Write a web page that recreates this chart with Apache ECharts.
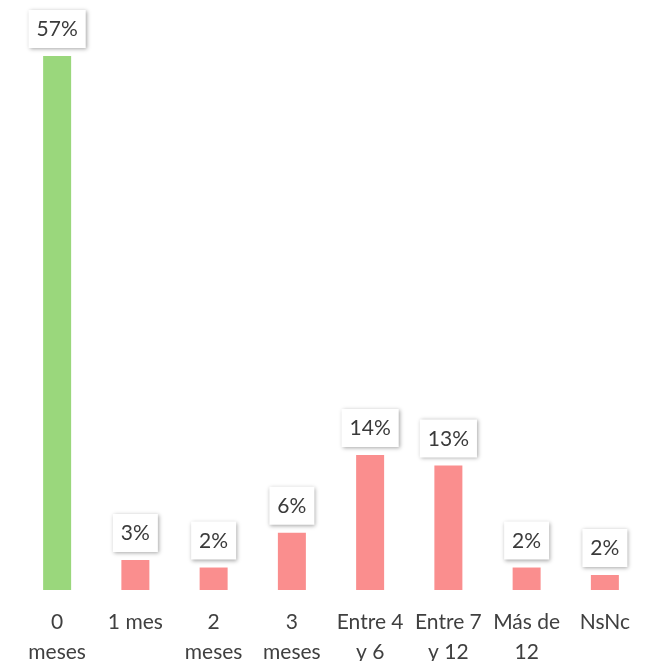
<!DOCTYPE html>
<html><head><meta charset="utf-8">
<script src="https://cdn.jsdelivr.net/npm/echarts@6/dist/echarts.min.js"></script>
<style>html,body{margin:0;padding:0;background:#fff}#c{width:648px;height:661px}</style>
</head><body><div id="c"></div>
<script>
const categories = ["0\nmeses","1 mes","2\nmeses","3\nmeses","Entre 4\ny 6","Entre 7\ny 12","Más de\n12","NsNc"];
const values = [57.0, 3.2, 2.4, 6.1, 14.4, 13.3, 2.4, 1.6];
const colors = ["#9ad77c","#fa8e8e","#fa8e8e","#fa8e8e","#fa8e8e","#fa8e8e","#fa8e8e","#fa8e8e"];
const FONT = "Lato, 'Open Sans', sans-serif";
const chart = echarts.init(document.getElementById('c'));
chart.setOption({
  animation:false,
  grid:{left:18,right:4,top:28,bottom:71,outerBoundsMode:'none',containLabel:false},
  xAxis:{type:'category',data:categories,
    axisLine:{show:false},axisTick:{show:false},
    axisLabel:{fontFamily:FONT,fontSize:21,color:'#404040',lineHeight:30,margin:17,interval:0,hideOverlap:false}},
  yAxis:{type:'value',min:0,max:60,show:false,splitLine:{show:false}},
  series:[{type:'bar',barWidth:28,
    data:values.map((v,i)=>({value:v,itemStyle:{color:colors[i]}})),
    label:{show:true,position:'top',distance:8,
      formatter:p=>Math.round(p.value)+'%',
      fontFamily:FONT,fontSize:21,color:'#3a3a3a',
      backgroundColor:'#fff',padding:[9,8,8,8],
      shadowColor:'rgba(0,0,0,0.35)',shadowBlur:4,shadowOffsetX:1,shadowOffsetY:1}}]
});
</script></body></html>
